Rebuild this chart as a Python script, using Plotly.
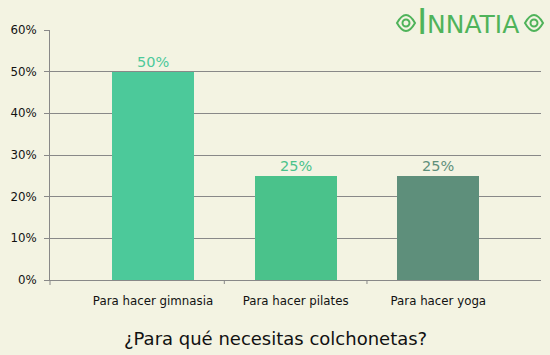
import plotly.graph_objects as go

categories = ["Para hacer gimnasia", "Para hacer pilates", "Para hacer yoga"]
values = [50, 25, 25]
labels = ["50%", "25%", "25%"]
colors = ["#4CC99A", "#4AC28B", "#5E8F7B"]
tick_vals = [0, 10, 20, 30, 40, 50, 60]
tick_text = ["0%", "10%", "20%", "30%", "40%", "50%", "60%"]

bg = "#F3F3E2"
logo = "#4FB35A"
W0, W, H0, H = 50, 491, 280, 250


def px(x):
    return (x - W0) / W


def py(y):
    return (H0 - y) / H


fig = go.Figure()
fig.add_trace(go.Bar(
    x=categories, y=values, marker=dict(color=colors, line=dict(width=0)),
    width=0.575, hoverinfo="skip",
))
for c, v, t, col in zip(categories, values, labels, colors):
    fig.add_annotation(x=c, y=v, text=t, xref="x", yref="y", showarrow=False,
                       xanchor="center", yanchor="bottom", yshift=0,
                       font=dict(family="DejaVu Sans, Verdana", size=14.5, color=col))
fig.update_layout(
    width=550, height=355,
    margin=dict(l=50, r=9, t=30, b=75),
    paper_bgcolor=bg, plot_bgcolor=bg,
    showlegend=False,
    font=dict(family="DejaVu Sans, Verdana", size=11.8, color="#111111"),
    xaxis=dict(
        range=[-0.722, 2.72], showgrid=False, showline=True, linecolor="#888888",
        linewidth=1, ticks="", tickfont=dict(size=11.8, color="#111111"),
        ticklabelstandoff=10, fixedrange=True,
    ),
    yaxis=dict(
        range=[0, 60], tickvals=tick_vals, ticktext=tick_text,
        showgrid=True, gridcolor="#888888", gridwidth=1,
        showline=True, linecolor="#888888", linewidth=1,
        ticks="outside", ticklen=5, tickcolor="#888888",
        zeroline=False, tickfont=dict(size=11.8, color="#111111"),
        ticklabelstandoff=5, fixedrange=True,
    ),
    bargap=0,
)
fig.add_annotation(text="¿Para qué necesitas colchonetas?", xref="paper", yref="paper",
                   x=px(275), y=py(338), xanchor="center", yanchor="middle",
                   showarrow=False, font=dict(size=18, color="#111111"))
# x category tick marks between categories
for xb in [0.5, 1.5]:
    fig.add_shape(type="line", xref="x", yref="paper", x0=xb, x1=xb,
                  y0=0, y1=py(284), line=dict(color="#888888", width=1))
# extend y axis line slightly below the x axis
fig.add_shape(type="line", xref="paper", yref="paper", x0=0, x1=0,
              y0=0, y1=py(285), line=dict(color="#888888", width=1))

# logo text
fig.add_annotation(text="I", xref="paper", yref="paper", x=px(422), y=py(22),
                   xanchor="center", yanchor="middle", showarrow=False,
                   font=dict(family="DejaVu Sans, sans-serif", size=35, color=logo))
fig.add_annotation(text="NNATIA", xref="paper", yref="paper", x=px(473), y=py(25),
                   xanchor="center", yanchor="middle", showarrow=False,
                   font=dict(family="DejaVu Sans, sans-serif", size=25, color=logo))


# logo ornaments (eye shapes)
def eye(cx, cy, hw, hh):
    x0, x1, xm = px(cx - hw), px(cx + hw), px(cx)
    yc, yt, yb = py(cy), py(cy - 2 * hh), py(cy + 2 * hh)
    return f"M {x0},{yc} Q {xm},{yt} {x1},{yc} Q {xm},{yb} {x0},{yc} Z"


for cx in (406, 534):
    fig.add_shape(type="path", xref="paper", yref="paper", path=eye(cx, 23, 9, 8),
                  line=dict(color=logo, width=2), fillcolor="rgba(0,0,0,0)")
    fig.add_shape(type="circle", xref="paper", yref="paper",
                  x0=px(cx - 3.5), x1=px(cx + 3.5), y0=py(26.5), y1=py(19.5),
                  line=dict(color=logo, width=2), fillcolor="rgba(0,0,0,0)")
fig.write_html("out.html")
